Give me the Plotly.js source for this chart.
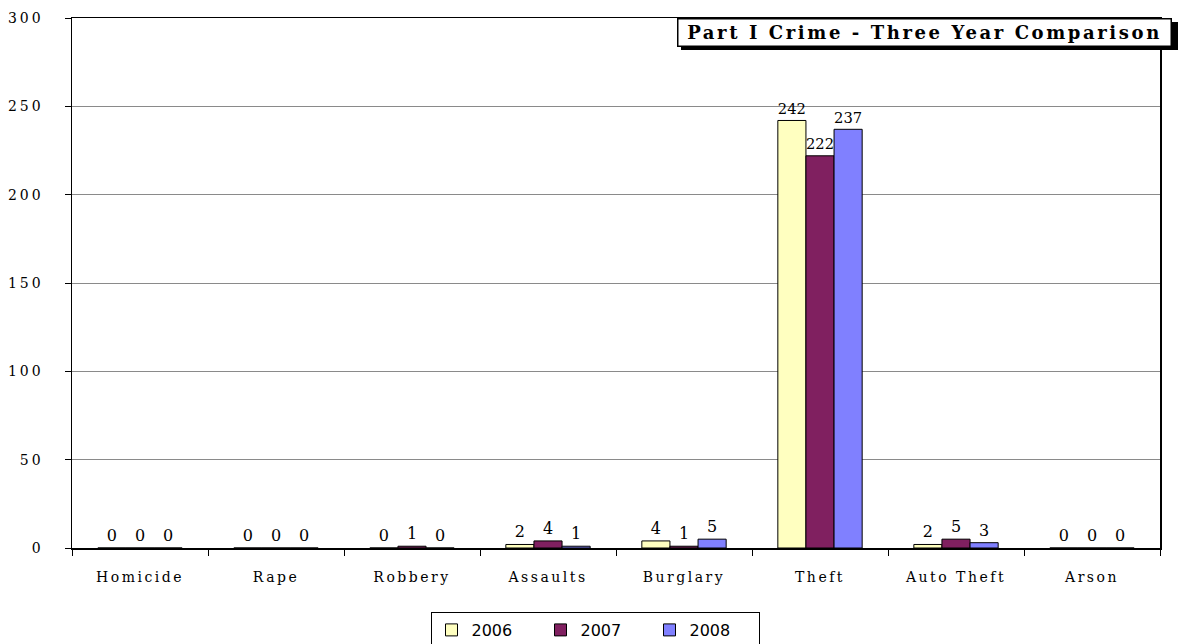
<!DOCTYPE html>
<html>
<head>
<meta charset="utf-8">
<script src="https://cdn.plot.ly/plotly-3.0.1.min.js"></script>
<style>html,body{margin:0;padding:0;background:#fff;}#chart{width:1185px;height:644px;}</style>
</head>
<body>
<div id="chart"></div>
<script>
const categories = ["Homicide", "Rape", "Robbery", "Assaults", "Burglary", "Theft", "Auto Theft", "Arson"];
const years = ["2006", "2007", "2008"];
const values2006 = [0, 0, 0, 2, 4, 242, 2, 0];
const values2007 = [0, 0, 1, 4, 1, 222, 5, 0];
const values2008 = [0, 0, 0, 1, 5, 237, 3, 0];
const colors = ["#FFFFC0", "#802060", "#8080FF"];
const yTicks = [0, 50, 100, 150, 200, 250, 300];
const titleText = "Part I Crime - Three Year Comparison";

const series = [values2006, values2007, values2008];
const serif = "DejaVu Serif, Liberation Serif, serif";
const spaced = (s, px) => "<span style=\"letter-spacing:" + px + "px\">" + s + "</span>";

const traces = series.map((vals, i) => ({
  type: "bar",
  name: years[i],
  x: categories,
  y: vals,
  text: vals.map(String),
  textposition: "outside",
  cliponaxis: false,
  textfont: {family: serif, size: 16, color: "#000"},
  marker: {color: colors[i], line: {color: "#000", width: 1}},
  hoverinfo: "x+y"
}));

const L = 72, R = 1160, T = 18, B = 548;
const pw = R - L, ph = B - T;
const px = v => (v - L) / pw;
const py = v => (B - v) / ph;

const layout = {
  width: 1185, height: 644,
  margin: {l: L, r: 1185 - R, t: T, b: 644 - B, autoexpand: false},
  paper_bgcolor: "#fff", plot_bgcolor: "#fff",
  barmode: "group",
  bargap: 0.38,
  bargroupgap: 0,
  showlegend: true,
  legend: {
    orientation: "h", x: px(595), xanchor: "center", y: py(612), yanchor: "top",
    bordercolor: "#000", borderwidth: 1, bgcolor: "#fff",
    font: {family: "DejaVu Sans, Verdana, sans-serif", size: 16, color: "#000"},
    traceorder: "normal", entrywidth: 64
  },
  xaxis: {
    type: "category",
    tickvals: categories, ticktext: categories.map(c => spaced(c, 2.5)),
    showline: true, linecolor: "#000", linewidth: 1.5, mirror: true,
    ticks: "outside", tickson: "boundaries", ticklen: 6, tickcolor: "#000",
    ticklabelstandoff: 16,
    tickfont: {family: serif, size: 14, color: "#000"},
    showgrid: false, zeroline: false
  },
  yaxis: {
    range: [0, 300], tickvals: yTicks, ticktext: yTicks.map(v => spaced(String(v), 3)),
    showline: true, linecolor: "#000", linewidth: 1.5, mirror: true,
    ticks: "outside", ticklen: 6, tickcolor: "#000",
    ticklabelstandoff: 18,
    tickfont: {family: serif, size: 14, color: "#000"},
    showgrid: true, gridcolor: "#8a8a8a", gridwidth: 1,
    zeroline: false, fixedrange: true
  },
  shapes: [{
    type: "rect", xref: "paper", yref: "paper", layer: "above",
    x0: px(681), x1: px(1178), y0: py(50), y1: py(22),
    fillcolor: "#000", line: {width: 0}
  }],
  annotations: [{
    xref: "paper", yref: "paper", x: px(677), y: py(18),
    xanchor: "left", yanchor: "top",
    text: spaced("<b>" + titleText + "</b>", 2.6), showarrow: false,
    width: 490, height: 24, align: "center", valign: "middle",
    bgcolor: "#fff", bordercolor: "#000", borderwidth: 1.5, borderpad: 1,
    font: {family: serif, size: 18, color: "#000"}
  }]
};

Plotly.newPlot("chart", traces, layout, {displayModeBar: false, staticPlot: true});
</script>
</body>
</html>
